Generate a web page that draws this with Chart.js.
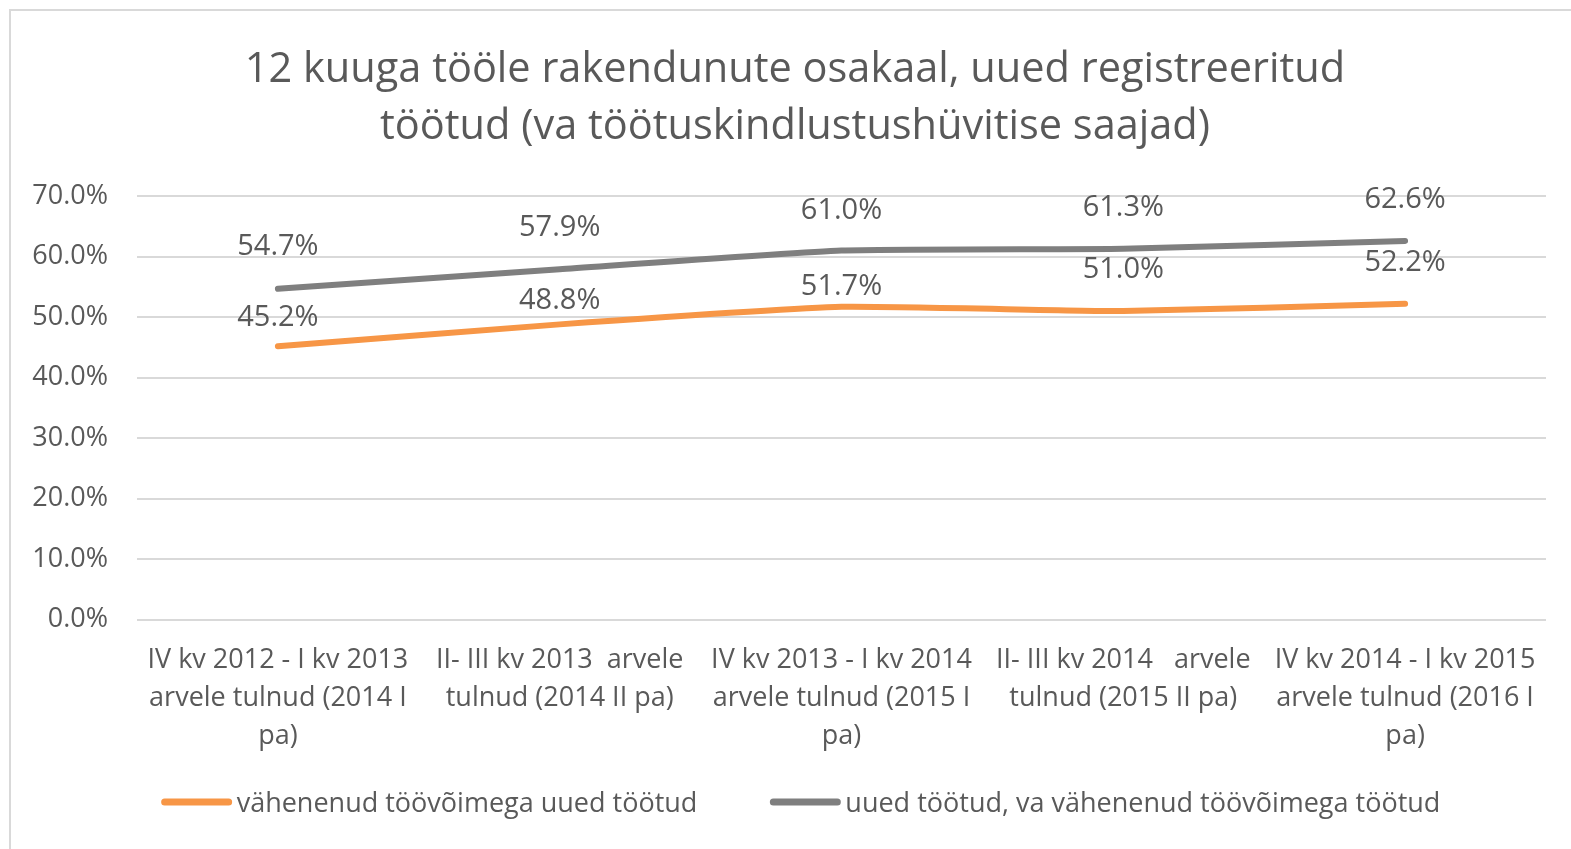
<!DOCTYPE html>
<html>
<head>
<meta charset="utf-8">
<script src="https://cdn.jsdelivr.net/npm/chart.js@4/dist/chart.umd.min.js"></script>
<style>
  html, body { margin: 0; padding: 0; background: #fff; overflow: hidden; }
  #wrap { position: absolute; left: 9px; top: 9px; width: 1580px; height: 860px; border: 2px solid #D9D9D9; box-sizing: border-box; }
  #c { position: absolute; left: 0; top: 0; }
</style>
</head>
<body>
<div id="wrap"></div>
<canvas id="c" width="1571" height="849"></canvas>
<script>
const categories = [
  ["IV kv 2012 - I kv 2013", "arvele tulnud (2014 I", "pa)"],
  ["II- III kv 2013  arvele", "tulnud (2014 II pa)"],
  ["IV kv 2013 - I kv 2014", "arvele tulnud (2015 I", "pa)"],
  ["II- III kv 2014   arvele", "tulnud (2015 II pa)"],
  ["IV kv 2014 - I kv 2015", "arvele tulnud (2016 I", "pa)"]
];
const seriesReduced = [45.2, 48.8, 51.7, 51.0, 52.2];
const seriesOther = [54.7, 57.9, 61.0, 61.3, 62.6];
const seriesNames = ["vähenenud töövõimega uued töötud", "uued töötud, va vähenenud töövõimega töötud"];
const titleLines = ["12 kuuga tööle rakendunute osakaal, uued registreeritud", "töötud (va töötuskindlustushüvitise saajad)"];
const reducedLabelLift = [28, 24, 20, 41, 41];
const otherLabelLift = [42, 42, 40, 41, 41];

const FONT = "'Open Sans', sans-serif";
const TXT = "#595959";

const labelPlugin = {
  id: 'pointLabels',
  afterDatasetsDraw(chart) {
    const ctx = chart.ctx;
    ctx.save();
    ctx.font = "29px " + FONT;
    ctx.fillStyle = TXT;
    ctx.textAlign = "center";
    ctx.textBaseline = "middle";
    chart.data.datasets.forEach((ds, i) => {
      const meta = chart.getDatasetMeta(i);
      meta.data.forEach((pt, j) => {
        ctx.fillText(ds.data[j].toFixed(1) + "%", pt.x, pt.y - ds.labelLift[j]);
      });
    });
    ctx.restore();
  }
};

// title centred over the span from the left margin to the plot's right edge
const titleShift = {
  id: 'titleShift',
  afterLayout(chart) {
    const t = chart.titleBlock;
    if (t) { t.left = 44; t.right = chart.chartArea.right; t.width = t.right - t.left; }
  }
};

// legend drawn in the bottom band: swatch, small gap, name
const legendPlugin = {
  id: 'bottomLegend',
  afterDraw(chart) {
    const ctx = chart.ctx;
    ctx.save();
    ctx.font = "27px " + FONT;
    const sw = 70, gap = 5, between = 73;
    const items = chart.data.datasets.map(ds => ({ label: ds.label, color: ds.borderColor, w: ctx.measureText(ds.label).width }));
    const total = items.reduce((s, it) => s + sw + gap + it.w, 0) + between * (items.length - 1);
    let x = 801 - total / 2;
    const y = 802;
    ctx.textBaseline = "middle";
    ctx.textAlign = "left";
    items.forEach(it => {
      ctx.strokeStyle = it.color;
      ctx.lineWidth = 7;
      ctx.lineCap = "round";
      ctx.beginPath();
      ctx.moveTo(x + 3, y);
      ctx.lineTo(x + sw - 3, y);
      ctx.stroke();
      ctx.fillStyle = TXT;
      ctx.fillText(it.label, x + sw + gap, y + 2);
      x += sw + gap + it.w + between;
    });
    ctx.restore();
  }
};

new Chart(document.getElementById('c'), {
  type: 'line',
  data: {
    labels: categories,
    datasets: [
      { label: seriesNames[0], data: seriesReduced, borderColor: '#F79646', backgroundColor: '#F79646',
        borderWidth: 6, pointRadius: 0, tension: 0.15, borderCapStyle: 'round', labelLift: reducedLabelLift },
      { label: seriesNames[1], data: seriesOther, borderColor: '#7F7F7F', backgroundColor: '#7F7F7F',
        borderWidth: 6, pointRadius: 0, tension: 0.15, borderCapStyle: 'round', labelLift: otherLabelLift }
    ]
  },
  options: {
    responsive: false,
    animation: false,
    layout: { padding: { left: 0, right: 25, top: 0, bottom: 72 } },
    plugins: {
      title: {
        display: true, text: titleLines, color: TXT,
        font: { family: FONT, size: 41.5, weight: 'normal', lineHeight: 1.375 }, padding: { top: 42, bottom: 40 }
      },
      legend: { display: false },
      tooltip: { enabled: false }
    },
    scales: {
      x: {
        offset: true,
        grid: { display: false, drawTicks: false },
        border: { display: false },
        ticks: { color: TXT, font: { family: FONT, size: 27, lineHeight: 1.4 }, maxRotation: 0, autoSkip: false, padding: 22 }
      },
      y: {
        min: 0, max: 70,
        afterFit: s => { s.width = 137; },
        grid: { color: '#D9D9D9', lineWidth: 2, drawTicks: false },
        border: { display: false },
        ticks: { stepSize: 10, color: TXT, font: { family: FONT, size: 27 }, padding: 29,
          callback: v => v.toFixed(1) + "%" }
      }
    }
  },
  plugins: [titleShift, labelPlugin, legendPlugin]
});
</script>
</body>
</html>
